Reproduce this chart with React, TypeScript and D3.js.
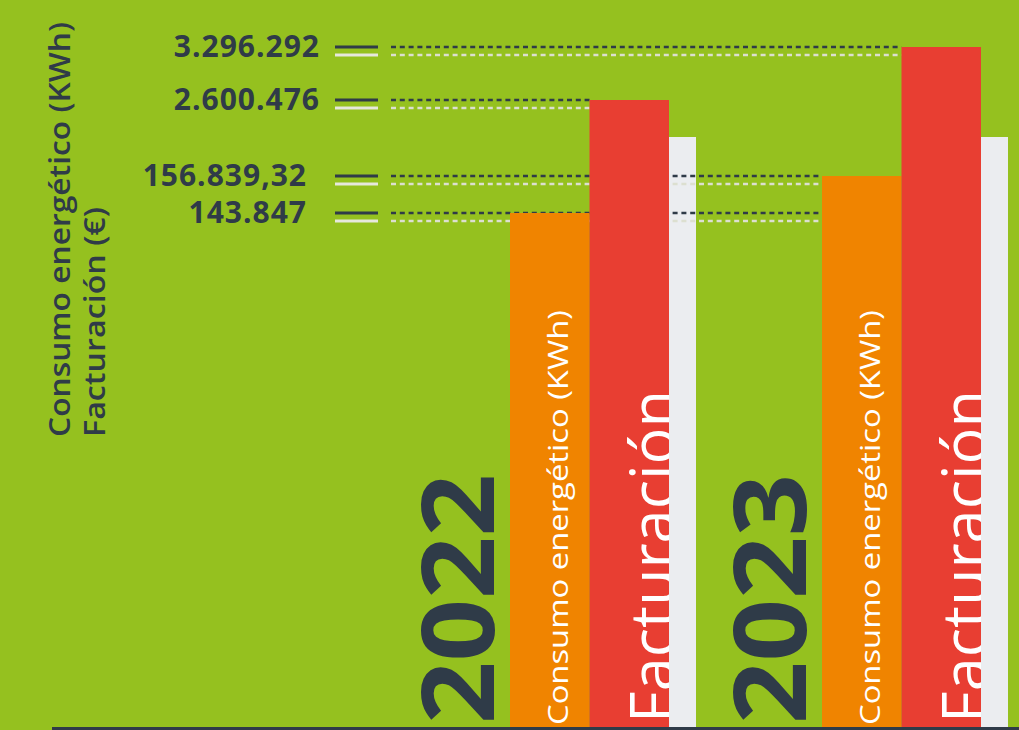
import React, { Component } from "react";
import * as d3 from "d3";

const years = ["2022", "2023"];
const consumo = [143847, 156839.32];
const facturacion = [2600476, 3296292];
const consumoLabels = ["143.847", "156.839,32"];
const facturacionLabels = ["2.600.476", "3.296.292"];
const seriesNames = ["Consumo energético (KWh)", "Facturación"];
const axisTitle = ["Consumo energético (KWh)", "Facturación (€)"];

const GREEN = "#95c11f";
const ORANGE = "#f08400";
const RED = "#e83e32";
const LIGHT = "#ebedf0";
const DARK = "#2f3b48";
const FONT = "'Open Sans', 'DejaVu Sans', sans-serif";

class App extends Component {
  svgRef = React.createRef<SVGSVGElement>();

  componentDidMount() {
    this.renderChart();
  }

  componentDidUpdate() {
    this.renderChart();
  }

  renderChart() {
    const W = 1019,
      H = 730,
      base = 727;

    const svg = d3.select(this.svgRef.current);
    svg.selectAll("*").remove();

    svg.append("rect").attr("width", W).attr("height", H).attr("fill", GREEN);

    // group scale (one band per year) and series scale inside each band
    const x_year = d3.scaleBand().domain(years).range([410, 1034]);
    const x_series = d3
      .scaleBand()
      .domain(["consumo", "facturacion"])
      .range([100, 259]);

    // the infographic uses a truncated scale for each series
    const y_consumo = d3
      .scaleLinear()
      .domain(d3.extent(consumo) as [number, number])
      .range([213, 176]);
    const y_fact = d3
      .scaleLinear()
      .domain(d3.extent(facturacion) as [number, number])
      .range([100, 47]);

    const defs = svg.append("defs");

    // light "shadow" bars behind each group
    const shadowTop = 137;
    svg
      .selectAll(".shadow")
      .data(years)
      .join("rect")
      .attr("x", d => x_year(d)! + 259)
      .attr("y", shadowTop)
      .attr("width", 27)
      .attr("height", base - shadowTop)
      .attr("fill", LIGHT);

    // reference lines with value labels
    const refs = [
      {
        label: facturacionLabels[1],
        y: y_fact(facturacion[1]),
        end: x_year("2023")! + x_series("facturacion")!,
        right: 320,
      },
      {
        label: facturacionLabels[0],
        y: y_fact(facturacion[0]),
        end: x_year("2022")! + x_series("facturacion")!,
        right: 320,
      },
      {
        label: consumoLabels[1],
        y: y_consumo(consumo[1]),
        end: x_year("2023")! + x_series("consumo")!,
        right: 307,
      },
      {
        label: consumoLabels[0],
        y: y_consumo(consumo[0]),
        end: x_year("2023")! + x_series("consumo")!,
        right: 307,
      },
    ];

    const g_ref = svg.append("g");
    refs.forEach(r => {
      g_ref
        .append("text")
        .attr("x", r.right)
        .attr("y", r.y + 10)
        .attr("text-anchor", "end")
        .style("font-family", FONT)
        .style("font-weight", 700)
        .style("font-size", "30px")
        .style("letter-spacing", "1px")
        .attr("fill", DARK)
        .text(r.label);
      // double solid marker
      g_ref.append("rect").attr("x", 335).attr("y", r.y - 1.5).attr("width", 43).attr("height", 3).attr("fill", DARK);
      g_ref.append("rect").attr("x", 335).attr("y", r.y + 6.5).attr("width", 43).attr("height", 3).attr("fill", "#e6e8dc");
      // dotted leaders
      g_ref
        .append("line")
        .attr("x1", 391)
        .attr("x2", r.end)
        .attr("y1", r.y)
        .attr("y2", r.y)
        .attr("stroke", DARK)
        .attr("stroke-width", 2.5)
        .attr("stroke-dasharray", "5,3.8");
      g_ref
        .append("line")
        .attr("x1", 391)
        .attr("x2", r.end)
        .attr("y1", r.y + 8)
        .attr("y2", r.y + 8)
        .attr("stroke", "#dcdfd0")
        .attr("stroke-width", 2.5)
        .attr("stroke-dasharray", "5,3.8");
    });

    // bars
    const bars = years.flatMap((yr, i) => [
      { year: yr, key: "consumo", top: y_consumo(consumo[i]), color: ORANGE },
      { year: yr, key: "facturacion", top: y_fact(facturacion[i]), color: RED },
    ]);

    bars.forEach((b, i) => {
      const x0 = x_year(b.year)! + x_series(b.key)!;
      const bw = x_series.bandwidth();
      defs
        .append("clipPath")
        .attr("id", "clip" + i)
        .append("rect")
        .attr("x", x0)
        .attr("y", b.top)
        .attr("width", bw)
        .attr("height", base - b.top);
      svg
        .append("rect")
        .attr("x", x0)
        .attr("y", b.top)
        .attr("width", bw)
        .attr("height", base - b.top)
        .attr("fill", b.color);

      const isCons = b.key === "consumo";
      svg
        .append("g")
        .attr("clip-path", `url(#clip${i})`)
        .append("text")
        .attr("transform", `translate(${x0 + (isCons ? 58 : 85)},${isCons ? 725 : 723}) rotate(-90)`)
        .style("font-family", FONT)
        .style("font-size", isCons ? "28px" : "62px")
        .attr("fill", "#ffffff")
        .attr("textLength", isCons ? 415 : 333)
        .attr("lengthAdjust", "spacingAndGlyphs")
        .text(isCons ? seriesNames[0] : seriesNames[1]);
    });

    // year labels
    svg
      .selectAll(".year")
      .data(years)
      .join("text")
      .attr("transform", d => `translate(${x_year(d)! + 84},${724}) rotate(-90)`)
      .style("font-family", FONT)
      .style("font-weight", 700)
      .style("font-size", "100px")
      .attr("fill", DARK)
      .attr("textLength", 250)
      .attr("lengthAdjust", "spacingAndGlyphs")
      .text(d => d);

    // baseline
    svg
      .append("line")
      .attr("x1", 52)
      .attr("x2", W)
      .attr("y1", base + 1.5)
      .attr("y2", base + 1.5)
      .attr("stroke", DARK)
      .attr("stroke-width", 3);

    // axis title (two rotated lines)
    axisTitle.forEach((t, i) => {
      svg
        .append("text")
        .attr("transform", `translate(${70 + i * 35},437) rotate(-90)`)
        .style("font-family", FONT)
        .style("font-weight", 600)
        .style("font-size", "29px")
        .attr("fill", DARK)
        .attr("textLength", i === 0 ? 415 : 230)
        .attr("lengthAdjust", "spacingAndGlyphs")
        .text(t);
    });
  }

  render() {
    return (
      <svg
        ref={this.svgRef}
        width={1019}
        height={730}
        style={{ position: "absolute", left: 0, top: 0 }}
      ></svg>
    );
  }
}

export default App;
